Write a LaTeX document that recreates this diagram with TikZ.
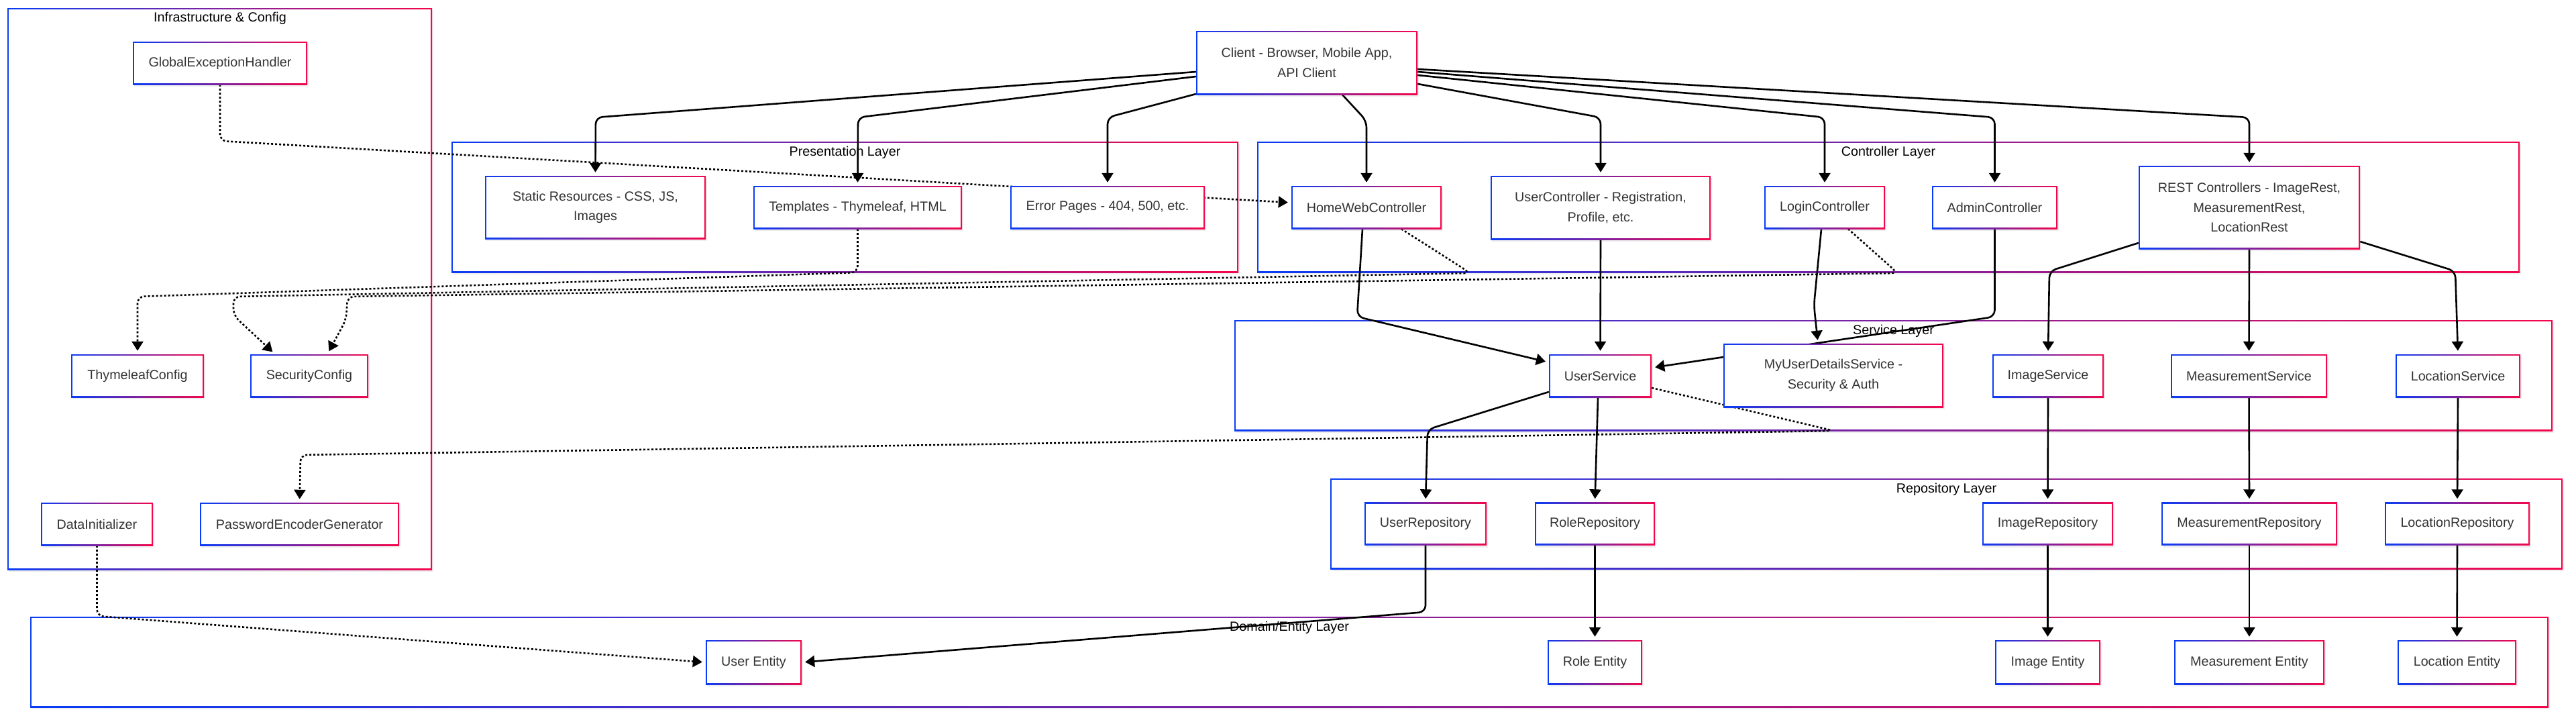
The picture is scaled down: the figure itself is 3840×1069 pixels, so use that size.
\documentclass[tikz,border=0pt]{standalone}
\usepackage{fontspec}
\setmainfont{Liberation Sans}
\usetikzlibrary{arrows.meta,shadows,calc}
\definecolor{gblue}{HTML}{0A3CF5}
\definecolor{gred}{HTML}{F5064B}
\definecolor{txt}{HTML}{333333}
\newcommand{\dgfont}{\fontsize{19.75pt}{29.6pt}\selectfont}
\pgfdeclarelayer{back}
\pgfdeclarelayer{mid}
\pgfsetlayers{back,mid,main}
\tikzset{
  gframe/.style={inner sep=0pt, draw=none, fill=white,
    path picture={
      \fill[left color=gblue,right color=gred] (path picture bounding box.south west) rectangle (path picture bounding box.north east);
      \fill[white] ($(path picture bounding box.south west)+(#1,#1)$) rectangle ($(path picture bounding box.north east)+(-#1,-#1)$);
    }},
  shad/.style={drop shadow={shadow xshift=1.5pt, shadow yshift=-3pt, opacity=0.13}},
  box/.style={gframe=2.3pt, shad, minimum height=64pt, font=\dgfont, text=txt, align=center},
  cluster/.style={gframe=2.3pt, shad},
  ctitle/.style={font=\dgfont, text=black, inner sep=0pt},
  arr/.style={line width=2.6pt, black, line join=round, rounded corners=10pt,
    -{Triangle[length=14pt,width=17pt]}, shorten >=5pt},
  dot/.style={arr, dash pattern=on 3pt off 3pt}
}
\begin{document}
\begin{tikzpicture}[x=1pt,y=-1pt]
\useasboundingbox (0,0) rectangle (3840,1069);

% ---------- nodes ----------
\node[box, minimum width=260pt] (geh) at (328,94) {GlobalExceptionHandler};
\node[box, minimum width=198pt] (thyme) at (205,560) {ThymeleafConfig};
\node[box, minimum width=176pt] (secc) at (461,560) {SecurityConfig};
\node[box, minimum width=167pt] (datainit) at (144.5,781) {DataInitializer};
\node[box, minimum width=297pt] (peg) at (446.5,781) {PasswordEncoderGenerator};

\node[box, minimum width=330pt, minimum height=95pt] (client) at (1948,93.5) {Client - Browser, Mobile App,\\API Client};

\node[box, minimum width=329pt, minimum height=94pt] (static) at (887.5,309) {Static Resources - CSS, JS,\\Images};
\node[box, minimum width=311pt] (templ) at (1278.5,309) {Templates - Thymeleaf, HTML};
\node[box, minimum width=290pt] (errp) at (1651,309) {Error Pages - 404, 500, etc.};

\node[box, minimum width=224pt] (hwc) at (2037,309) {HomeWebController};
\node[box, minimum width=328pt, minimum height=95pt] (uctrl) at (2386,309.5) {UserController - Registration,\\Profile, etc.};
\node[box, minimum width=180pt] (login) at (2720,309) {LoginController};
\node[box, minimum width=187pt] (admin) at (2973.5,309) {AdminController};
\node[box, minimum width=330pt, minimum height=124pt] (rest) at (3353,309) {REST Controllers - ImageRest,\\MeasurementRest,\\LocationRest};

\node[box, minimum width=153pt] (usvc) at (2385.5,560) {UserService};
\node[box, minimum width=328pt, minimum height=95pt] (muds) at (2733,559.5) {MyUserDetailsService -\\Security \& Auth};
\node[box, minimum width=166pt] (isvc) at (3053,560) {ImageService};
\node[box, minimum width=233pt] (msvc) at (3352.5,560) {MeasurementService};
\node[box, minimum width=186pt] (lsvc) at (3664,560) {LocationService};

\node[box, minimum width=182pt] (urepo) at (2125,780.5) {UserRepository};
\node[box, minimum width=179pt] (rrepo) at (2377.5,780.5) {RoleRepository};
\node[box, minimum width=195pt] (irepo) at (3052.5,780.5) {ImageRepository};
\node[box, minimum width=262pt] (mrepo) at (3353,780.5) {MeasurementRepository};
\node[box, minimum width=216pt] (lrepo) at (3663,780.5) {LocationRepository};

\node[box, minimum width=143pt, minimum height=66pt] (uent) at (1123.5,987) {User Entity};
\node[box, minimum width=141pt, minimum height=66pt] (rent) at (2377.5,987) {Role Entity};
\node[box, minimum width=157pt, minimum height=66pt] (ient) at (3052.5,987) {Image Entity};
\node[box, minimum width=224pt, minimum height=66pt] (ment) at (3353,987) {Measurement Entity};
\node[box, minimum width=177pt, minimum height=66pt] (lent) at (3662.5,987) {Location Entity};

% ---------- clusters ----------
\begin{pgfonlayer}{back}
\fill[white] (0,0) rectangle (3840,1069);
\node[cluster, minimum width=633pt, minimum height=837pt] (infra) at (327.5,430.5) {};
\node[cluster, minimum width=1173pt, minimum height=195pt] (pres) at (1259.5,308.5) {};
\node[cluster, minimum width=1882pt, minimum height=195pt] (ctrl) at (2815,308.5) {};
\node[cluster, minimum width=1965pt, minimum height=165pt] (serv) at (2822.5,559.5) {};
\node[cluster, minimum width=1837pt, minimum height=135pt] (repo) at (2901.5,780.5) {};
\node[cluster, minimum width=3754pt, minimum height=135pt] (dom) at (1922,986.5) {};
\node[ctitle] (tinfra) at (328,27) {Infrastructure \& Config};
\node[ctitle] (tpres) at (1259.5,227) {Presentation Layer};
\node[ctitle] (tctrl) at (2815,227) {Controller Layer};
\node[ctitle] (tserv) at (2822.5,493) {Service Layer};
\node[ctitle] (trepo) at (2901.5,729) {Repository Layer};
\node[ctitle] (tdom) at (1922,935) {Domain/Entity Layer};
\end{pgfonlayer}

% ---------- connectors ----------
\begin{pgfonlayer}{mid}
% client
\draw[arr] (client.west |- 0,107) -- (888,175) -- (static.north);
\draw[arr] (client.west |- 0,114) -- (1279,175) -- (templ.north);
\draw[arr] (client.west |- 0,140) -- (1651,175) -- (errp.north);
\draw[arr] (2001,0 |- client.south) -- (2037,180) -- (hwc.north);
\draw[arr] (client.east |- 0,125) -- (2386,175) -- (uctrl.north);
\draw[arr] (client.east |- 0,112) -- (2720,175) -- (login.north);
\draw[arr] (client.east |- 0,107) -- (2973.5,175) -- (admin.north);
\draw[arr] (client.east |- 0,103) -- (3353,175) -- (rest.north);
% dotted
\draw[dot] (geh.south) -- (328,210) -- (hwc.west |- 0,302);
\draw[dot] (templ.south) -- (1278.5,406) -- (205,442) -- (thyme.north);
\draw[dot] (2089,0 |- hwc.south) -- (2192,407) -- (348,442) -- (348,470) -- (410,0 |- secc.north);
\draw[dot] (2755,0 |- login.south) -- (2829,407) -- (518,442) -- (516,476) -- (488,0 |- secc.north);
\draw[dot] (usvc.east |- 0,578) -- (2734,642) -- (448,678) -- (peg.north);
\draw[dot] (datainit.south) -- (144.5,918) -- (uent.west);
% controllers to services
\draw[arr] (2031,0 |- hwc.south) -- (2023,472) -- (usvc.west |- 0,540);
\draw[arr] (uctrl.south) -- (usvc.north);
\draw[arr] (2715,0 |- login.south) -- (2704,455) -- (2710,0 |- muds.north);
\draw[arr] (admin.south) -- (2973.5,472) -- (usvc.east |- 0,548);
\draw[arr] (rest.west |- 0,362) -- (3055,404) -- (isvc.north);
\draw[arr] (rest.south) -- (msvc.north);
\draw[arr] (rest.east |- 0,360) -- (3660,404) -- (lsvc.north);
% services to repositories
\draw[arr] (usvc.west |- 0,584) -- (2128,640) -- (urepo.north);
\draw[arr] (2382,0 |- usvc.south) -- (rrepo.north);
\draw[arr] (isvc.south) -- (irepo.north);
\draw[arr] (msvc.south) -- (mrepo.north);
\draw[arr] (lsvc.south) -- (lrepo.north);
% repositories to entities
\draw[arr] (urepo.south) -- (2125,912) -- (uent.east);
\draw[arr] (rrepo.south) -- (rent.north);
\draw[arr] (irepo.south) -- (ient.north);
\draw[arr] (mrepo.south) -- (ment.north);
\draw[arr] (lrepo.south) -- (lent.north);
\end{pgfonlayer}
\end{tikzpicture}
\end{document}
